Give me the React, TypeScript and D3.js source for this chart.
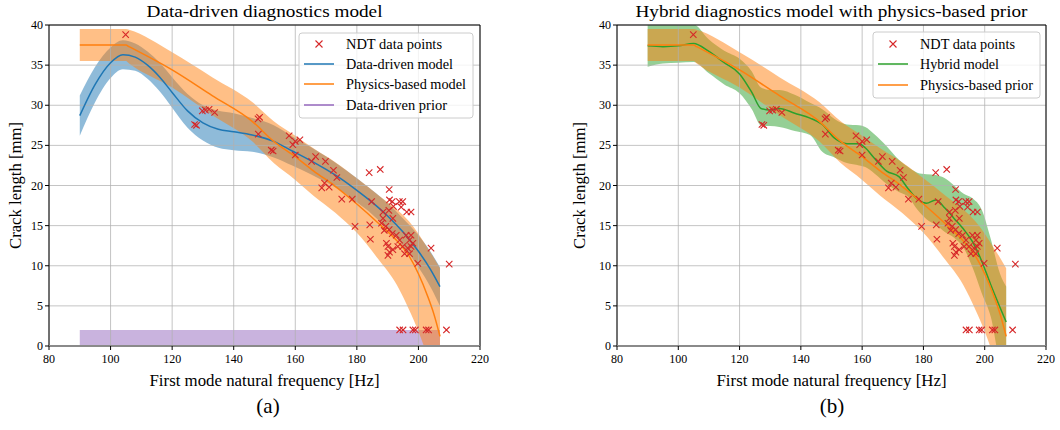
import React from 'react';
import * as d3 from 'd3';

// ---------- data ----------
const xTickValues = [80, 100, 120, 140, 160, 180, 200, 220];
const yTickValues = [0, 5, 10, 15, 20, 25, 30, 35, 40];

// NDT data points (frequency [Hz], crack length [mm])
const ndtFreq = [
  104.9, 127.3, 127.9, 129.8, 130.8, 132.0, 133.8, 147.9, 148.4, 148.0,
  152.2, 152.8, 158.0, 159.2, 160.0, 160.0, 161.5, 165.3, 166.6, 169.8,
  168.6, 169.5, 171.0, 172.4, 173.5, 175.1, 178.5, 179.4, 184.2, 184.4,
  184.8, 184.0, 187.6, 190.5, 190.6, 191.5, 193.8, 194.9, 191.9, 190.4,
  188.5, 194.4, 196.2, 197.6, 191.7, 188.5, 188.0, 189.4, 188.9, 190.5,
  191.5, 192.8, 193.9, 196.0, 197.6, 197.1, 189.6, 190.1, 190.6, 190.1,
  191.7, 193.3, 194.9, 196.5, 197.6, 197.1, 195.5, 198.2, 199.8, 204.1,
  210.0, 193.9, 195.0, 198.2, 199.0, 202.5, 203.3, 209.1,
];
const ndtCrack = [
  38.8, 27.6, 27.5, 29.3, 29.4, 29.5, 29.1, 28.3, 28.5, 26.4,
  24.4, 24.3, 26.2, 25.1, 25.5, 23.8, 25.7, 23.0, 23.6, 23.0,
  19.7, 20.3, 19.8, 21.9, 21.0, 18.3, 18.3, 14.9, 15.1, 13.3,
  18.0, 21.6, 22.0, 19.5, 18.2, 18.0, 18.0, 18.0, 17.4, 16.9,
  16.7, 17.3, 16.7, 16.7, 15.9, 15.9, 15.3, 14.9, 14.4, 14.5,
  14.0, 13.8, 13.2, 13.8, 13.8, 13.2, 12.8, 12.4, 11.7, 11.3,
  12.0, 12.4, 12.4, 12.2, 12.4, 11.5, 11.5, 12.8, 10.3, 12.2,
  10.2, 2.0, 2.0, 2.0, 2.0, 2.0, 2.0, 2.0,
];

// Data-driven model (blue): mean and half-width of band
const ddFreq = [90, 95, 100, 104, 108, 112, 116, 120, 125, 130, 135, 140, 146, 153, 159, 165, 170, 175, 180, 185, 190, 195, 200, 204, 207];
const ddMean = [28.7, 32.6, 35.3, 36.3, 36.0, 35.0, 33.5, 31.6, 29.3, 27.8, 27.0, 26.7, 26.3, 25.5, 24.3, 23.1, 22.0, 20.8, 19.4, 17.9, 16.2, 14.2, 11.8, 9.5, 7.4];
const ddHalf = [2.5, 2.2, 1.9, 1.8, 1.7, 1.7, 1.8, 1.9, 2.1, 2.2, 2.3, 2.3, 2.1, 2.0, 1.8, 1.7, 1.6, 1.5, 1.5, 1.5, 1.6, 1.7, 2.0, 2.2, 2.4];

// Physics-based model / prior (orange)
const phFreq = [90, 105, 106, 120, 133, 146, 153, 160, 166, 173, 180, 187, 193, 197, 200, 203, 205, 207];
const phMean = [37.5, 37.5, 37.3, 34.4, 31.2, 28.0, 25.5, 23.6, 21.8, 19.9, 17.7, 15.3, 13.1, 11.2, 9.0, 6.2, 4.0, 1.2];
const phUpper = [39.5, 39.5, 39.4, 36.6, 33.5, 30.4, 28.0, 26.2, 24.6, 22.9, 20.9, 18.8, 17.0, 15.5, 14.0, 12.2, 11.0, 9.7];
const phLower = [35.5, 35.5, 35.2, 32.2, 28.8, 25.5, 22.8, 20.7, 18.7, 16.6, 14.1, 10.8, 7.6, 4.5, 1.8, -1.5, -4.5, -8.0];

// Hybrid model (green)
const hyFreq = [90, 95, 100, 105, 110, 115, 120, 124, 127, 130, 133, 138, 143, 147, 151, 155, 159, 161, 164, 168, 172, 175, 178, 181, 184, 187, 190, 193, 196, 199, 202, 205, 207];
const hyMean = [37.4, 37.3, 37.4, 37.7, 36.7, 35.3, 33.9, 31.6, 29.6, 29.4, 29.6, 29.0, 28.4, 27.6, 25.9, 25.2, 25.2, 24.7, 23.4, 21.8, 21.1, 19.6, 18.3, 17.8, 18.2, 17.2, 15.9, 14.6, 13.0, 10.6, 7.6, 4.8, 3.0];
const hyUpper = [40.2, 40.3, 40.3, 40.1, 38.2, 36.8, 35.8, 34.2, 32.2, 31.9, 31.9, 31.3, 30.3, 29.5, 28.3, 27.6, 27.5, 27.3, 26.4, 24.9, 23.2, 22.3, 21.6, 21.4, 21.3, 20.9, 20.0, 19.0, 18.4, 17.0, 13.3, 9.0, 7.4];
const hyLower = [34.8, 35.2, 35.3, 35.4, 34.0, 32.6, 31.5, 29.5, 27.5, 27.4, 27.3, 26.8, 26.3, 24.2, 23.5, 22.8, 22.5, 22.3, 21.5, 20.2, 19.2, 18.6, 17.0, 15.8, 15.1, 14.2, 13.5, 12.3, 9.8, 6.6, 3.6, -2.0, -3.0];

// Data-driven prior (purple band)
const priorFreq = [90, 207];
const priorUpper = [2, 2];
const priorLower = [0, 0];

// ---------- styling ----------
const FONT = 'Liberation Serif, DejaVu Serif, serif';
const C_BLUE = '#1f77b4';
const C_ORANGE = '#ff7f0e';
const C_GREEN = '#2ca02c';
const C_RED = '#d62728';
const C_PURPLE = '#9467bd';

type Band = { f: number[]; lo: number[]; hi: number[]; color: string };
type Line = { f: number[]; v: number[]; color: string };

function zip3(f: number[], a: number[], b: number[]) {
  return f.map((x, i) => ({ f: x, lo: a[i], hi: b[i] }));
}

function Panel(props: {
  id: string;
  left: number;
  right: number;
  top: number;
  bottom: number;
  title: string;
  titleWidth: number;
  ylabelX: number;
  bands: Band[];
  lines: Line[];
  legend: { label: string; kind: 'marker' | 'line'; color: string; width: number }[];
  legendBox: { x: number; y: number; w: number; h: number; lineX0: number; lineX1: number; textX: number; rows: number[] };
}) {
  const { id, left, right, top, bottom } = props;
  const x = d3.scaleLinear().domain([80, 220]).range([left, right]);
  const y = d3.scaleLinear().domain([0, 40]).range([bottom, top]);

  const area = d3
    .area<{ f: number; lo: number; hi: number }>()
    .x((d) => x(d.f))
    .y0((d) => y(d.lo))
    .y1((d) => y(d.hi))
    .curve(d3.curveMonotoneX);
  const line = d3
    .line<{ f: number; v: number }>()
    .x((d) => x(d.f))
    .y((d) => y(d.v))
    .curve(d3.curveMonotoneX);

  const cx = (left + right) / 2;
  const lb = props.legendBox;

  return (
    <g style={{ fontFamily: FONT }}>
      <defs>
        <clipPath id={id}>
          <rect x={left} y={top} width={right - left} height={bottom - top} />
        </clipPath>
      </defs>
      <g clipPath={`url(#${id})`}>
        {props.bands.map((b, i) => (
          <path key={i} d={area(zip3(b.f, b.lo, b.hi)) || ''} fill={b.color} fillOpacity={0.5} stroke="none" />
        ))}
      </g>
      {/* grid */}
      <g stroke="#b0b0b0" strokeOpacity={0.75} strokeWidth={1}>
        {xTickValues.map((t) => (
          <line key={'gx' + t} x1={x(t)} x2={x(t)} y1={top} y2={bottom} />
        ))}
        {yTickValues.map((t) => (
          <line key={'gy' + t} x1={left} x2={right} y1={y(t)} y2={y(t)} />
        ))}
      </g>
      <g clipPath={`url(#${id})`}>
        {props.lines.map((l, i) => (
          <path
            key={i}
            d={line(l.f.map((f, j) => ({ f, v: l.v[j] }))) || ''}
            fill="none"
            stroke={l.color}
            strokeWidth={1.5}
          />
        ))}
      </g>
      {/* points */}
      <g stroke={C_RED} strokeWidth={1.1}>
        {ndtFreq.map((f, i) => {
          const px = x(f);
          const py = y(ndtCrack[i]);
          const r = 3.2;
          return (
            <path key={i} d={`M${px - r},${py - r}L${px + r},${py + r}M${px - r},${py + r}L${px + r},${py - r}`} />
          );
        })}
      </g>
      {/* spines */}
      <line x1={left} x2={right} y1={top} y2={top} stroke="#000" strokeWidth={1} />
      <line x1={left} x2={left} y1={top} y2={bottom} stroke="#000" strokeWidth={1} />
      <line x1={right} x2={right} y1={top} y2={bottom} stroke="#000" strokeWidth={1} />
      <line x1={left} x2={right} y1={bottom} y2={bottom} stroke="#8a8a8a" strokeWidth={2} />
      {/* ticks */}
      <g fontSize={12} fill="#000">
        {xTickValues.map((t) => (
          <g key={'tx' + t}>
            <line x1={x(t)} x2={x(t)} y1={bottom} y2={bottom + 4} stroke="#000" />
            <text x={x(t)} y={bottom + 17} textAnchor="middle">
              {t}
            </text>
          </g>
        ))}
        {yTickValues.map((t) => (
          <g key={'ty' + t}>
            <line x1={left - 4} x2={left} y1={y(t)} y2={y(t)} stroke="#000" />
            <text x={left - 6} y={y(t) + 4} textAnchor="end">
              {t}
            </text>
          </g>
        ))}
      </g>
      {/* title & labels */}
      <text x={cx} y={17} textAnchor="middle" fontSize={17.5} textLength={props.titleWidth} lengthAdjust="spacingAndGlyphs">
        {props.title}
      </text>
      <text x={cx} y={386} textAnchor="middle" fontSize={16} textLength={230} lengthAdjust="spacingAndGlyphs">
        First mode natural frequency [Hz]
      </text>
      <text
        transform={`translate(${props.ylabelX},${(top + bottom) / 2}) rotate(-90)`}
        textAnchor="middle"
        fontSize={16}
        textLength={127}
        lengthAdjust="spacingAndGlyphs"
      >
        Crack length [mm]
      </text>
      {/* legend */}
      <rect x={lb.x} y={lb.y} width={lb.w} height={lb.h} rx={3} fill="#fff" fillOpacity={0.8} stroke="#cccccc" />
      {props.legend.map((e, i) => {
        const ry = lb.rows[i];
        const mx = (lb.lineX0 + lb.lineX1) / 2;
        return (
          <g key={i}>
            {e.kind === 'marker' ? (
              <path
                d={`M${mx - 3.5},${ry - 3.5}L${mx + 3.5},${ry + 3.5}M${mx - 3.5},${ry + 3.5}L${mx + 3.5},${ry - 3.5}`}
                stroke={e.color}
                strokeWidth={1.1}
              />
            ) : (
              <line x1={lb.lineX0} x2={lb.lineX1} y1={ry} y2={ry} stroke={e.color} strokeWidth={1.5} />
            )}
            <text x={lb.textX} y={ry + 5} fontSize={14.5} textLength={e.width} lengthAdjust="spacingAndGlyphs">
              {e.label}
            </text>
          </g>
        );
      })}
    </g>
  );
}

export default function App() {
  return (
    <svg
      width={1060}
      height={430}
      style={{ position: 'absolute', left: 0, top: 0, background: '#fff' }}
    >
      <rect x={0} y={0} width={1060} height={430} fill="#fff" />
      <Panel
        id="clipA"
        left={49}
        right={480}
        top={25}
        bottom={346}
        title="Data-driven diagnostics model"
        titleWidth={236}
        ylabelX={21}
        bands={[
          { f: priorFreq, lo: priorLower, hi: priorUpper, color: C_PURPLE },
          { f: ddFreq, lo: ddMean.map((m, i) => m - ddHalf[i]), hi: ddMean.map((m, i) => m + ddHalf[i]), color: C_BLUE },
          { f: phFreq, lo: phLower, hi: phUpper, color: C_ORANGE },
        ]}
        lines={[
          { f: ddFreq, v: ddMean, color: C_BLUE },
          { f: phFreq, v: phMean, color: C_ORANGE },
        ]}
        legend={[
          { label: 'NDT data points', kind: 'marker', color: C_RED, width: 96 },
          { label: 'Data-driven model', kind: 'line', color: C_BLUE, width: 107 },
          { label: 'Physics-based model', kind: 'line', color: C_ORANGE, width: 120 },
          { label: 'Data-driven prior', kind: 'line', color: C_PURPLE, width: 101 },
        ]}
        legendBox={{ x: 299, y: 33, w: 174, h: 85, lineX0: 304, lineX1: 334, textX: 346, rows: [44, 64, 84, 105] }}
      />
      <Panel
        id="clipB"
        left={617}
        right={1046}
        top={25}
        bottom={346}
        title="Hybrid diagnostics model with physics-based prior"
        titleWidth={392}
        ylabelX={585}
        bands={[
          { f: hyFreq, lo: hyLower, hi: hyUpper, color: C_GREEN },
          { f: phFreq, lo: phLower, hi: phUpper, color: C_ORANGE },
        ]}
        lines={[
          { f: hyFreq, v: hyMean, color: C_GREEN },
          { f: phFreq, v: phMean, color: C_ORANGE },
        ]}
        legend={[
          { label: 'NDT data points', kind: 'marker', color: C_RED, width: 95 },
          { label: 'Hybrid model', kind: 'line', color: C_GREEN, width: 79 },
          { label: 'Physics-based prior', kind: 'line', color: C_ORANGE, width: 113 },
        ]}
        legendBox={{ x: 873, y: 32, w: 167, h: 66, lineX0: 878, lineX1: 908, textX: 920, rows: [44, 64, 85] }}
      />
      <text x={268} y={413} textAnchor="middle" fontFamily={FONT} fontSize={21}>
        (a)
      </text>
      <text x={832} y={413} textAnchor="middle" fontFamily={FONT} fontSize={21}>
        (b)
      </text>
    </svg>
  );
}
